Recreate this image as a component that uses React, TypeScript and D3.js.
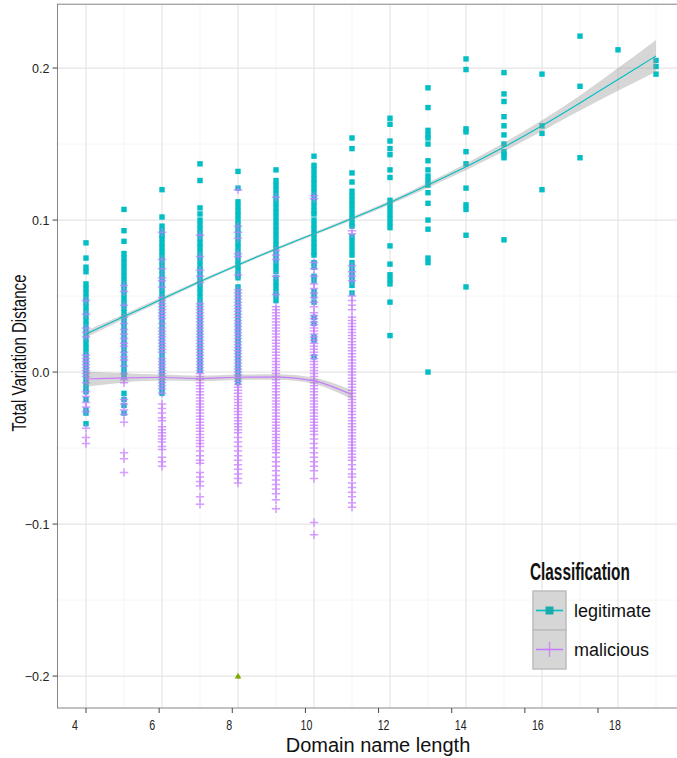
import React from "react";
import * as d3 from "d3";

// ---------- data (values in thousandths of Total Variation Distance) ----------
const LEGIT_4 = [85, 75, 69, 66, 58, 55, 52, 49, 46, 43, 40, 37, 34, 31, 28, 25, 22, 19, 16, 13, 10, 7, 4, 1, -2, -5, -8, -11, -13, -18, -25, -27, -34];
const MAL_4 = [47, 38, 29, 26, 23, 11, 9, 7, 5, 3, 1, -1, -3, -7, -13, -16, -20, -23, -26, -37, -43, -47];
const LEGIT_5 = [107, 93, 86, 78, 75, 72, 69, 66, 63, 60, 57, 54, 51, 48, 45, 42, 39, 36, 33, 30, 27, 24, 21, 18, 15, 12, 9, 6, 3, 0, -3, -14, -18, -22, -27];
const MAL_5 = [57, 53, 44, 36, 32, 28, 25, 22, 19, 17, 13, 10, 8, 4, -1, -5, -7, -18, -21, -25, -28, -33, -53, -57, -66];
const LEGIT_6 = [120, 102, 96, 93, 90, 88, 85, 82, 79, 76, 73, 70, 67, 64, 61, 58, 55, 52, 49, 46, 43, 40, 37, 34, 31, 28, 25, 22, 19, 16, 13, 10, 7, 4, 1, -2, -5, -8, -11, -14];
const MAL_6 = [92, 74, 68, 62, 60, 56, 49, 47, 45, 43, 41, 39, 37, 35, 32, 29, 27, 25, 23, 21, 19, 17, 15, 13, 9, 7, 5, 3, 1, -1, -3, -5, -7, -9, -11, -14, -21, -24, -27, -30, -32, -36, -38, -40, -42, -44, -46, -49, -51, -56, -59, -62];
const LEGIT_7 = [137, 126, 108, 104, 100, 97, 94, 91, 88, 85, 82, 79, 76, 73, 70, 67, 64, 61, 58, 55, 52, 49, 46, 43, 40, 37, 34, 31, 28, 25, 22, 19, 16, 13, 10, 7, 4, 1];
const MAL_7 = [90, 76, 67, 63, 59, 45, 43, 41, 39, 37, 35, 33, 31, 29, 27, 25, 23, 21, 19, 17, 15, 13, 11, 9, 7, 5, 3, 1, -1, -3, -5, -7, -9, -11, -13, -15, -17, -19, -21, -23, -25, -27, -29, -31, -33, -35, -37, -39, -41, -43, -45, -47, -49, -52, -55, -58, -60, -66, -69, -72, -75, -82, -87];
const LEGIT_8 = [132, 121, 112, 109, 106, 103, 100, 97, 94, 91, 88, 85, 82, 79, 76, 73, 70, 67, 64, 62, 56, 53, 50, 47, 44, 41, 38, 35, 32, 29, 26, 23, 20, 17, 14, 11, 8, 5, 2, -1, -4, -7];
const MAL_8 = [120, 96, 92, 88, 78, 76, 64, 54, 52, 50, 48, 46, 44, 42, 40, 38, 36, 34, 32, 30, 28, 26, 24, 22, 20, 18, 16, 14, 12, 10, 8, 6, 4, 2, 0, -2, -4, -6, -8, -10, -12, -14, -16, -18, -20, -22, -24, -26, -28, -30, -32, -34, -36, -38, -40, -43, -46, -49, -52, -55, -58, -61, -64, -67, -70, -73];
const LEGIT_9 = [133, 126, 123, 120, 117, 114, 111, 108, 105, 102, 99, 96, 93, 90, 87, 84, 81, 78, 75, 72, 69, 66, 62, 59, 56, 53, 50, 47];
const MAL_9 = [115, 80, 77, 74, 63, 51, 43, 41, 39, 37, 35, 33, 31, 29, 27, 25, 23, 21, 19, 17, 15, 13, 11, 9, 7, 5, 3, 1, -1, -3, -5, -7, -9, -11, -13, -15, -17, -19, -21, -23, -25, -27, -29, -31, -33, -35, -37, -39, -41, -43, -45, -47, -49, -51, -53, -56, -59, -62, -65, -68, -71, -74, -77, -80, -84, -90];
const LEGIT_10 = [142, 136, 133, 130, 127, 124, 121, 118, 115, 112, 109, 106, 104, 100, 97, 94, 91, 88, 85, 82, 79, 77, 72, 69, 63, 60, 53, 50, 46, 36, 32, 23, 21, 10];
const MAL_10 = [116, 114, 72, 68, 63, 58, 55, 52, 49, 46, 43, 39, 37, 35, 33, 31, 29, 27, 25, 23, 21, 19, 17, 15, 13, 11, 9, 7, 5, 3, 1, -1, -3, -5, -7, -9, -11, -13, -15, -17, -19, -21, -23, -25, -27, -29, -31, -33, -35, -37, -39, -41, -44, -47, -50, -53, -56, -59, -62, -65, -70, -99, -107];
const LEGIT_11 = [154, 147, 131, 125, 119, 116, 113, 110, 107, 104, 101, 98, 96, 89, 86, 83, 80, 77, 72, 69, 66, 63, 60, 57, 52];
const MAL_11 = [93, 91, 70, 66, 63, 60, 50, 47, 44, 41, 36, 34, 32, 30, 28, 26, 24, 22, 20, 18, 16, 14, 12, 10, 8, 6, 4, 2, 0, -2, -4, -6, -8, -10, -12, -14, -16, -18, -20, -22, -24, -26, -28, -30, -32, -34, -36, -38, -40, -42, -44, -46, -48, -50, -52, -54, -56, -58, -61, -64, -67, -69, -73, -76, -79, -82, -86, -89];
const LEGIT_12 = [167, 163, 152, 147, 143, 133, 128, 113, 110, 107, 104, 101, 98, 95, 83, 71, 64, 61, 58, 46, 24];
const LEGIT_13 = [187, 174, 159, 156, 154, 150, 139, 133, 129, 126, 123, 118, 111, 100, 94, 75, 72, 0];
const LEGIT_14 = [206, 199, 160, 158, 145, 137, 121, 110, 107, 90, 56];
const LEGIT_15 = [197, 183, 178, 168, 162, 156, 150, 145, 143, 141, 87];
const LEGIT_16 = [196, 162, 157, 120];
const LEGIT_17 = [221, 188, 141];
const LEGIT_18 = [212];
const LEGIT_19 = [205, 201, 196];

const LEGIT_COLUMNS: [number, number[]][] = [
  [4, LEGIT_4], [5, LEGIT_5], [6, LEGIT_6], [7, LEGIT_7], [8, LEGIT_8], [9, LEGIT_9],
  [10, LEGIT_10], [11, LEGIT_11], [12, LEGIT_12], [13, LEGIT_13], [14, LEGIT_14],
  [15, LEGIT_15], [16, LEGIT_16], [17, LEGIT_17], [18, LEGIT_18], [19, LEGIT_19],
];
const MAL_COLUMNS: [number, number[]][] = [
  [4, MAL_4], [5, MAL_5], [6, MAL_6], [7, MAL_7], [8, MAL_8], [9, MAL_9], [10, MAL_10], [11, MAL_11],
];
// single point of the other classes
const OTHER_POINT = { len: 8, tvd: -200 };

// loess fits (thousandths)
const LEGIT_FIT_X = [4, 5, 6, 7, 8, 9, 10, 11, 12, 13, 14, 15, 16, 17, 18, 19];
const LEGIT_FIT = [25, 36.5, 48, 59.5, 70.5, 81, 91, 101, 111.5, 123, 135, 148, 162, 177, 192.5, 208];
const LEGIT_SE = [2.2, 1.6, 1.3, 1.1, 1.0, 1.0, 1.0, 1.1, 1.3, 1.7, 2.2, 2.8, 3.6, 5.0, 7.5, 10.5];
const MAL_FIT_X = [4, 5, 6, 7, 8, 9, 10, 11];
const MAL_FIT = [-4.6, -3.8, -3.6, -4.2, -3.4, -3.3, -5.8, -15];
const MAL_SE = [5, 3, 2, 1.8, 1.8, 1.8, 2, 3];

const X_TICKS = [4, 6, 8, 10, 12, 14, 16, 18];
const X_MINOR = [5, 7, 9, 11, 13, 15, 17, 19];
const Y_TICKS = [-0.2, -0.1, 0, 0.1, 0.2];
const Y_TICK_LABELS = ["\u22120.2", "\u22120.1", "0.0", "0.1", "0.2"];
const Y_MINOR = [-0.15, -0.05, 0.05, 0.15];

const TEAL = "#00BFC4";
const PURPLE = "#C77CFF";
const FONT = "'Liberation Sans', Arial, Helvetica, sans-serif";

export default function App() {
  const W = 677, H = 758;
  const x = d3.scaleLinear().domain([3.25, 19.75]).range([57.5, 684.5]);
  const y = d3.scaleLinear().domain([-0.221, 0.242]).range([708, 4.2]);
  const xTick = d3.scaleLinear().domain([4, 18]).range([86, 598]);
  const xLab = d3.scaleLinear().domain([4, 18]).range([75, 615]);
  const t = (v: number) => v / 1000;

  const legitLine = d3.line<number>().x((_, i) => x(LEGIT_FIT_X[i])).y((d) => y(t(d))).curve(d3.curveMonotoneX);
  const legitArea = d3.area<number>().x((_, i) => x(LEGIT_FIT_X[i]))
    .y0((d, i) => y(t(d - LEGIT_SE[i]))).y1((d, i) => y(t(d + LEGIT_SE[i]))).curve(d3.curveMonotoneX);
  const malLine = d3.line<number>().x((_, i) => x(MAL_FIT_X[i])).y((d) => y(t(d))).curve(d3.curveMonotoneX);
  const malArea = d3.area<number>().x((_, i) => x(MAL_FIT_X[i]))
    .y0((d, i) => y(t(d - MAL_SE[i]))).y1((d, i) => y(t(d + MAL_SE[i]))).curve(d3.curveMonotoneX);

  const sq = 5.4;
  const pl = 4.2;
  const panelL = x.range()[0], panelR = x.range()[1];
  const panelT = y.range()[1], panelB = y.range()[0];

  return (
    <svg width={W} height={H} style={{ position: "absolute", left: 0, top: 0, background: "#fff" }} fontFamily={FONT}>
      <defs>
        <clipPath id="panel">
          <rect x={panelL} y={panelT} width={panelR - panelL} height={panelB - panelT} />
        </clipPath>
      </defs>
      {/* grid */}
      <g>
        {Y_MINOR.map((v) => (
          <line key={"ym" + v} x1={panelL} x2={panelR} y1={y(v)} y2={y(v)} stroke="#f3f3f3" strokeWidth={0.8} />
        ))}
        {X_MINOR.map((v) => (
          <line key={"xm" + v} x1={x(v)} x2={x(v)} y1={panelT} y2={panelB} stroke="#f3f3f3" strokeWidth={0.8} />
        ))}
        {Y_TICKS.map((v) => (
          <line key={"yg" + v} x1={panelL} x2={panelR} y1={y(v)} y2={y(v)} stroke="#e5e5e5" strokeWidth={1.2} />
        ))}
        {X_TICKS.map((v) => (
          <line key={"xg" + v} x1={x(v)} x2={x(v)} y1={panelT} y2={panelB} stroke="#e5e5e5" strokeWidth={1.2} />
        ))}
      </g>
      <g clipPath="url(#panel)">
        {LEGIT_COLUMNS.map(([len, vals]) =>
          vals.map((v, i) => (
            <rect key={`l${len}-${i}`} x={x(len) - sq / 2} y={y(t(v)) - sq / 2} width={sq} height={sq} fill={TEAL} />
          ))
        )}
        {MAL_COLUMNS.map(([len, vals]) =>
          vals.map((v, i) => {
            const cx = x(len), cy = y(t(v));
            return (
              <path key={`m${len}-${i}`} d={`M${cx - pl},${cy}H${cx + pl}M${cx},${cy - pl}V${cy + pl}`}
                stroke={PURPLE} strokeWidth={1.5} strokeOpacity={0.75} fill="none" />
            );
          })
        )}
        <circle cx={x(OTHER_POINT.len) + 0.5} cy={y(t(OTHER_POINT.tvd)) + 1} r={1.8} fill="#F8766D" />
        <path d={`M${x(OTHER_POINT.len)},${y(t(OTHER_POINT.tvd)) - 3.3}L${x(OTHER_POINT.len) + 3.3},${y(t(OTHER_POINT.tvd)) + 2.4}L${x(OTHER_POINT.len) - 3.3},${y(t(OTHER_POINT.tvd)) + 2.4}Z`} fill="#7CAE00" />
        <path d={malArea(MAL_FIT) || ""} fill="#999999" fillOpacity={0.4} />
        <path d={malLine(MAL_FIT) || ""} stroke={PURPLE} strokeWidth={1.1} fill="none" />
        <path d={legitArea(LEGIT_FIT) || ""} fill="#999999" fillOpacity={0.4} />
        <path d={legitLine(LEGIT_FIT) || ""} stroke={TEAL} strokeWidth={1.1} fill="none" />
      </g>
      <rect x={panelL} y={panelT} width={panelR - panelL} height={panelB - panelT} fill="none" stroke="#858585" strokeWidth={1} />

      {Y_TICKS.map((v, i) => (
        <g key={"yt" + v}>
          <line x1={panelL - 5} x2={panelL} y1={y(v)} y2={y(v)} stroke="#444" strokeWidth={1} />
          <text x={panelL - 8} y={y(v)} dy="0.36em" textAnchor="end" fontSize={12.5} fill="#222">
            {Y_TICK_LABELS[i]}
          </text>
        </g>
      ))}
      {X_TICKS.map((v) => (
        <g key={"xt" + v}>
          <line x1={xTick(v)} x2={xTick(v)} y1={panelB} y2={panelB + 5} stroke="#444" strokeWidth={1} />
          <text transform={`translate(${xLab(v)},729.5) scale(0.76,1)`} textAnchor="middle" fontSize={14} fill="#222">
            {v}
          </text>
        </g>
      ))}
      <text x={378} y={752} textAnchor="middle" fontSize={20} fill="#111">Domain name length</text>
      <text transform="translate(26,353) rotate(-90) scale(0.717,1)" textAnchor="middle" fontSize={21} fill="#111">
        Total Variation Distance
      </text>

      <g>
        <text transform="translate(530,580) scale(0.64,1)" fontSize={24} fontWeight="bold" fill="#111">
          Classification
        </text>
        <rect x={533} y={591} width={33} height={39} fill="#d6d6d6" stroke="#bdbdbd" strokeWidth={1.5} />
        <rect x={533} y={630} width={33} height={39} fill="#d6d6d6" stroke="#bdbdbd" strokeWidth={1.5} />
        <line x1={536} x2={563} y1={610.5} y2={610.5} stroke={TEAL} strokeWidth={1.6} />
        <rect x={549.5 - 4} y={610.5 - 4} width={8} height={8} fill="#1aa9ac" />
        <line x1={536} x2={563} y1={649.5} y2={649.5} stroke={PURPLE} strokeWidth={1.6} />
        <line x1={549.5} x2={549.5} y1={642} y2={657} stroke={PURPLE} strokeWidth={1.4} strokeOpacity={0.8} />
        <text x={574} y={616.5} fontSize={18} fill="#111">legitimate</text>
        <text x={574} y={656} fontSize={18} fill="#111">malicious</text>
      </g>
    </svg>
  );
}
